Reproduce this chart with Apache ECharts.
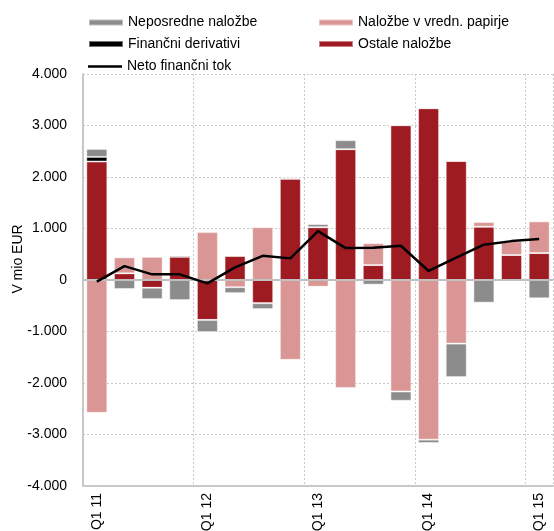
<!DOCTYPE html>
<html>
<head>
<meta charset="utf-8">
<script src="https://cdn.jsdelivr.net/npm/echarts@6/dist/echarts.min.js"></script>
<style>html,body{margin:0;padding:0;background:#fff}#c{width:554px;height:531px}</style>
</head>
<body>
<div id="c"></div>
<script>
var categories = ['Q1 11','Q2 11','Q3 11','Q4 11','Q1 12','Q2 12','Q3 12','Q4 12','Q1 13','Q2 13','Q3 13','Q4 13','Q1 14','Q2 14','Q3 14','Q4 14','Q1 15'];
var neposredne = [155,-175,-220,-390,-235,-115,-115,25,60,175,-90,-180,-65,-650,-440,0,-355];
var vrednPapirji = [-2580,310,450,0,930,-140,1025,-1550,-130,-2095,425,-2165,-3100,-1235,90,265,615];
var derivativi = [90,0,0,25,0,20,0,0,0,0,0,0,0,0,0,0,0];
var ostale = [2300,130,-150,450,-775,465,-450,1965,1025,2540,290,3005,3335,2310,1035,485,523];
var netoTok = [-30,270,110,110,-65,245,470,420,950,620,625,665,175,435,685,755,795];
var yTicks = [-4000,-3000,-2000,-1000,0,1000,2000,3000,4000];

var names = {
  nep: 'Neposredne naložbe',
  vp: 'Naložbe v vredn. papirje',
  der: 'Finančni derivativi',
  ost: 'Ostale naložbe',
  net: 'Neto finančni tok'
};
var FONT = 'Liberation Sans';
function fmt(v){
  if (v === 0) return '0';
  var s = Math.abs(v).toString().replace(/\B(?=(\d{3})+(?!\d))/g, '.');
  return (v < 0 ? '-' : '') + s;
}
var chart = echarts.init(document.getElementById('c'), null, {renderer:'canvas'});
function bar(name, data, color){
  return {type:'bar', stack:'a', barWidth:21, name:name, data:data,
    itemStyle:{color:color, borderWidth:1, borderColor:'rgba(255,255,255,0.45)'}};
}
var legendText = {fontFamily:FONT, fontSize:14, color:'#000'};
chart.setOption({
  animation:false,
  textStyle:{fontFamily:FONT},
  grid:{left:83, right:1, top:74, bottom:45, containLabel:false, outerBoundsMode:'none'},
  legend:[
    {orient:'vertical', left:88, top:15.5, padding:0, itemWidth:34, itemHeight:6, itemGap:7.5, icon:'rect',
     textStyle:legendText, data:[names.nep, names.der]},
    {orient:'vertical', left:88, top:59.5, padding:0, itemWidth:34, itemHeight:2.5, icon:'rect',
     textStyle:legendText, data:[names.net]},
    {orient:'vertical', left:318, top:15.5, padding:0, itemWidth:34, itemHeight:6, itemGap:7.5, icon:'rect',
     textStyle:legendText, data:[names.vp, names.ost]}
  ],
  xAxis:{
    type:'category', data:categories, boundaryGap:true,
    axisLine:{onZero:false, lineStyle:{color:'#c8c8c8', width:2}},
    axisTick:{show:false},
    axisLabel:{interval:function(i){return i%4===0;}, rotate:90, margin:7, fontSize:14, color:'#000', fontFamily:FONT},
    splitLine:{show:true, interval:function(i){return i%4===0 && i>0;}, lineStyle:{color:'#c8c8c8', type:[2,2], width:1}}
  },
  yAxis:{
    type:'value', min:yTicks[0], max:yTicks[yTicks.length-1], interval:1000,
    name:'V mio EUR', nameLocation:'middle', nameGap:58, nameRotate:90, nameMoveOverlap:false,
    nameTextStyle:{fontSize:14, color:'#000', fontFamily:FONT, padding:[0,0,0,42]},
    axisLine:{show:true, lineStyle:{color:'#c8c8c8', width:2}},
    axisTick:{show:false},
    axisLabel:{fontSize:14, color:'#000', margin:16, formatter:fmt, fontFamily:FONT},
    splitLine:{show:true, lineStyle:{color:'#c8c8c8', type:[2,2], width:1}}
  },
  series:[
    bar(names.ost, ostale, '#9e1b22'),
    bar(names.der, derivativi, '#000000'),
    bar(names.vp, vrednPapirji, '#da9694'),
    bar(names.nep, neposredne, '#8c8c8c'),
    {type:'line', name:names.net, data:netoTok, symbol:'none', z:5,
     lineStyle:{color:'#000', width:2.5}, itemStyle:{color:'#000'},
     markLine:{silent:true, symbol:'none', label:{show:false}, z:4,
       lineStyle:{color:'#c0c0c0', type:'solid', width:2},
       data:[{yAxis:0}]}}
  ]
});
</script>
</body>
</html>
